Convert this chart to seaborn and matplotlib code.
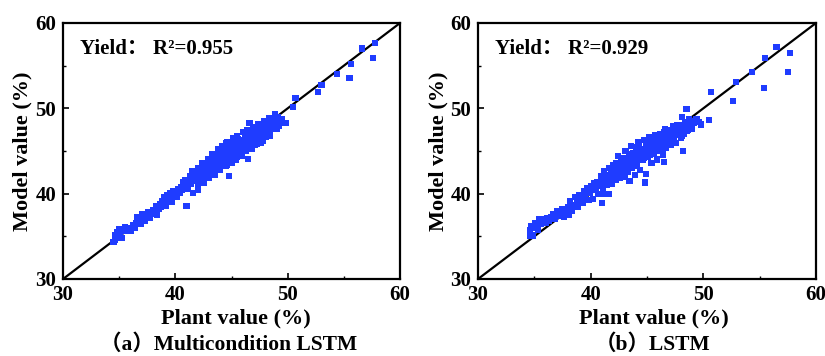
import matplotlib
matplotlib.use("Agg")
import matplotlib.pyplot as plt
import seaborn as sns
import pandas as pd
from matplotlib.ticker import MultipleLocator

# ---------------- data ----------------
a_x = [34.5,34.6,34.6,34.7,34.8,34.9,35.0,35.1,35.2,35.4,35.5,35.7,35.9,36.0,36.2,
       36.4,36.5,36.6,36.8,36.9,37.0,37.1,37.3,37.4,37.6,37.7,37.9,38.0,38.2,38.3,38.4,
       38.5,38.6,38.7,38.8,38.9,39.0,39.1,39.2,39.3,39.4,39.5,39.6,39.7,39.8,39.9,40.0,40.1,40.2,
       41.0,41.6,42.0,
       40.4,40.5,40.6,40.7,40.8,40.9,41.0,41.1,41.2,41.3,41.4,41.5,41.6,41.7,41.8,41.9,42.0,42.0,
       42.1,42.2,42.3,42.4,42.4,42.5,42.6,42.7,42.8,42.9,43.0,43.0,43.1,43.2,43.3,43.4,43.4,43.5,
       43.6,43.7,43.8,43.9,44.0,44.0,43.2,42.9,43.6,43.8,
       44.1,44.2,44.3,44.4,44.5,44.6,44.6,44.7,44.8,44.8,44.9,45.0,45.0,45.1,45.2,45.3,45.4,45.5,
       45.5,45.6,45.7,45.8,45.9,46.0,44.3,44.5,45.2,
       46.1,46.2,46.3,46.4,46.5,46.5,46.6,46.7,46.8,46.9,47.0,47.1,47.2,47.3,47.4,47.5,47.6,47.7,
       47.8,47.9,48.0,46.6,47.2,
       48.1,48.2,48.3,48.4,48.5,48.6,48.7,48.8,48.9,49.0,49.2,49.5,49.8,48.5,49.1,
       42.2,42.3,42.5,42.6,42.7,42.8,43.0,43.1,43.2,43.3,43.5,43.6,43.7,43.9,44.0,44.1,44.2,44.3,
       44.4,44.5,44.6,44.7,44.9,45.0,45.1,45.2,45.3,45.4,45.6,45.7,45.8,45.9,46.0,46.1,46.2,46.3,
       46.4,46.6,46.7,46.8,46.9,47.0,47.1,47.3,47.4,47.5,47.6,47.8,48.0,48.2,
       41.5,42.0,42.4,42.9,43.3,43.8,44.2,44.6,45.1,45.5,46.0,46.4,46.9,47.4,47.9,48.3,
       42.0,42.5,43.0,43.5,44.0,44.5,45.0,45.4,45.9,46.3,46.8,47.3,47.8,48.4,49.0,
       50.5,50.7,52.7,53.0,54.4,55.5,55.6,56.6,57.6,57.8]
a_y = [34.3,34.6,35.2,34.9,35.5,35.0,35.8,35.3,34.8,35.6,36.1,35.7,36.0,35.6,36.3,
       36.0,36.6,37.3,36.9,36.5,37.6,37.1,36.8,37.4,37.8,37.2,37.6,38.1,37.8,38.5,37.5,
       38.2,38.8,38.4,39.1,38.7,39.6,39.2,38.6,39.8,39.3,40.1,39.6,39.0,40.3,39.8,40.2,39.6,40.5,
       38.6,40.1,40.4,
       40.1,40.8,40.4,41.3,40.9,41.6,41.0,40.6,41.4,42.0,41.2,41.7,42.3,41.5,41.9,42.5,41.4,42.1,
       42.8,41.9,42.4,43.1,41.7,42.7,43.4,42.2,42.9,43.6,42.6,43.3,44.0,42.9,43.5,42.4,44.2,43.1,
       43.8,44.5,43.3,44.0,42.8,44.6,43.9,42.3,42.9,44.9,
       43.6,44.3,45.0,43.9,44.6,45.3,43.4,44.1,45.6,42.1,44.8,44.2,45.9,45.2,44.6,46.2,45.0,44.3,
       45.7,46.4,45.1,45.9,44.8,46.3,43.2,45.9,43.9,
       45.5,46.6,45.9,47.0,44.1,46.2,45.3,46.8,47.3,46.0,46.6,45.7,47.0,46.3,47.5,46.8,45.9,47.2,
       46.6,47.7,47.1,48.3,46.9,
       46.6,47.8,48.9,47.3,48.2,47.7,48.6,48.0,49.3,48.4,48.0,48.7,48.3,48.8,49.0,
       42.5,43.0,42.1,42.9,43.5,42.4,43.8,43.2,42.6,44.1,43.6,44.3,43.6,43.7,44.1,44.8,43.7,44.4,
       45.1,43.8,44.6,45.2,45.4,44.7,45.7,45.1,44.5,45.6,45.4,46.0,44.9,45.6,45.2,46.2,45.6,46.5,
       45.8,46.5,45.9,46.3,47.0,46.1,46.7,47.1,46.1,47.4,46.9,47.4,47.9,47.2,
       42.6,43.0,43.6,44.1,44.6,45.2,45.6,46.0,46.5,46.8,47.2,47.4,47.8,48.1,48.5,48.6,
       40.9,41.3,41.9,42.2,43.0,43.2,43.6,44.0,44.4,45.0,45.3,45.8,46.2,46.8,47.6,
       50.2,51.2,51.9,52.7,54.0,53.6,55.2,57.0,55.9,57.7]

b_x = [34.6,34.6,34.7,34.9,35.0,35.1,35.3,35.4,35.6,35.8,36.0,36.1,36.3,36.5,36.7,36.8,37.0,
       37.1,37.3,37.5,37.6,37.8,38.0,38.1,38.2,38.3,38.5,38.6,38.8,38.9,39.0,39.2,39.3,39.4,39.5,
       39.7,39.8,39.9,40.0,40.1,40.2,40.3,40.5,40.6,40.7,40.8,40.9,41.0,41.1,41.2,41.3,41.4,41.5,
       41.6,41.7,41.8,41.9,42.0,42.0,
       41.0,41.1,41.6,43.5,
       42.1,42.2,42.3,42.4,42.4,42.5,42.6,42.7,42.8,42.9,43.0,43.0,43.1,43.2,43.3,43.4,43.4,43.5,
       43.6,43.7,43.8,43.9,44.0,44.0,44.1,44.2,44.3,44.4,44.5,44.6,44.7,44.8,44.8,44.9,45.0,45.1,
       45.2,45.3,45.4,45.5,45.6,45.7,45.8,45.9,46.0,46.1,46.2,46.3,46.4,46.5,46.5,46.6,46.7,46.8,
       46.9,47.0,47.1,47.2,47.3,47.4,47.5,47.6,47.7,47.8,47.9,48.0,48.1,48.2,48.2,48.3,48.4,48.5,
       48.6,48.7,48.8,48.9,49.0,49.2,49.4,49.6,49.8,
       42.2,42.3,42.5,42.6,42.7,42.9,43.0,43.1,43.3,43.4,43.5,43.6,43.7,43.9,44.0,44.1,44.2,44.3,
       44.4,44.6,44.7,44.9,45.0,45.1,45.2,45.3,45.4,45.5,45.6,45.8,45.9,46.0,46.1,46.2,46.4,46.5,
       46.7,46.8,46.9,47.0,47.2,47.3,47.5,47.6,47.8,48.0,48.1,48.3,48.5,48.7,
       50.5,50.7,52.6,52.9,54.3,55.4,55.5,56.5,57.5,57.7]
b_y = [35.0,35.7,36.2,35.1,36.0,36.5,35.8,37.0,36.4,37.0,36.6,37.1,36.8,37.3,37.6,37.0,38.0,
       37.4,37.8,38.2,37.3,37.8,38.4,37.5,39.1,38.0,38.7,39.6,39.2,38.5,39.8,39.4,38.9,40.3,39.7,
       40.6,39.3,40.1,40.9,40.4,39.4,41.2,40.6,41.4,40.0,40.9,42.0,41.3,40.6,42.6,41.7,41.0,42.2,
       43.0,41.5,42.4,41.2,43.3,42.0,
       38.9,40.0,40.0,41.5,
       42.7,41.6,43.6,42.3,44.4,43.0,41.9,43.8,42.6,44.2,43.2,42.0,45.0,43.6,42.5,44.5,41.5,43.9,
       45.6,43.0,44.8,42.2,44.2,45.4,43.4,46.0,44.6,42.8,45.2,43.9,46.3,44.9,41.3,42.3,45.5,44.3,
       46.6,45.0,43.6,45.9,44.7,46.9,45.4,44.0,46.2,45.1,47.0,45.8,44.6,46.6,43.7,47.6,45.4,46.9,
       46.1,47.4,45.7,46.8,47.9,46.4,47.2,45.9,48.0,46.9,47.5,46.5,49.0,45.0,47.9,47.0,48.4,49.9,
       47.5,48.7,47.9,48.5,47.6,48.3,48.7,48.4,48.1,
       42.9,42.1,43.6,42.7,43.2,43.0,44.0,43.3,43.9,43.1,44.6,43.5,44.3,44.0,43.3,45.0,44.1,45.6,
       44.5,45.0,44.2,45.7,44.8,46.0,45.3,44.5,46.3,45.1,45.8,46.4,45.6,45.0,46.6,45.6,46.2,47.2,
       46.5,45.7,47.2,46.5,47.5,46.1,46.9,47.7,47.2,47.7,46.8,48.0,47.4,48.2,
       48.6,51.9,50.9,53.1,54.3,52.4,55.9,57.2,54.3,56.5]

panel_data = [
    (a_x, a_y, "Yield\uff1a R\u00b2=0.955", "\uff08a\uff09Multicondition LSTM"),
    (b_x, b_y, "Yield\uff1a R\u00b2=0.929", "\uff08b\uff09LSTM"),
]
axis_limits = [30, 60]
tick_values = [30, 40, 50, 60]
x_label = "Plant value (%)"
y_label = "Model value (%)"

# ---------------- style ----------------
sns.set_theme(style="white")
plt.rcParams["font.family"] = ["Liberation Serif", "Noto Sans CJK SC", "DejaVu Sans"]
plt.rcParams["font.weight"] = "bold"
plt.rcParams["axes.labelweight"] = "bold"

fig = plt.figure(figsize=(8.25, 3.56), dpi=100)
axes_rects = [[0.0764, 0.2163, 0.4085, 0.7191], [0.5794, 0.2163, 0.4097, 0.7191]]
plant_x = [236 / 825, 654 / 825]
sub_x = [229 / 825, 653 / 825]
ylab_x = [22 / 825, 438 / 825]
point_color = "#1f3cff"

for rect, (xs, ys, r2, sub), px, sx, yx in zip(axes_rects, panel_data, plant_x, sub_x, ylab_x):
    ax = fig.add_axes(rect)
    df = pd.DataFrame({"plant": xs, "model": ys})
    ax.plot(axis_limits, axis_limits, color="black", lw=1.6, zorder=1)
    sns.scatterplot(data=df, x="plant", y="model", ax=ax, marker="s", s=20,
                    color=point_color, edgecolor="none", linewidth=0, zorder=2)
    ax.set_xlim(axis_limits)
    ax.set_ylim(axis_limits)
    ax.set_xticks(tick_values)
    ax.set_yticks(tick_values)
    ax.xaxis.set_minor_locator(MultipleLocator(5))
    ax.yaxis.set_minor_locator(MultipleLocator(5))
    ax.tick_params(which="major", direction="in", length=4, width=1.2, color="black",
                   labelsize=15, bottom=True, left=True)
    ax.tick_params(axis="x", which="major", pad=4)
    ax.tick_params(axis="y", which="major", pad=5)
    ax.tick_params(which="minor", direction="in", length=2.5, width=1.0, color="black",
                   bottom=True, left=True)
    for lab in ax.get_xticklabels() + ax.get_yticklabels():
        lab.set_fontweight("bold")
        lab.set_color("black")
    for sp in ax.spines.values():
        sp.set_linewidth(1.6)
        sp.set_color("black")
    ax.set_xlabel("")
    ax.set_ylabel("")
    ax.text(0.05, 0.9, r2, transform=ax.transAxes, fontsize=15, fontweight="bold",
            va="center", ha="left", color="black")
    fig.text(px, 1 - 318 / 356, x_label, ha="center", va="center",
             fontsize=16, fontweight="bold", color="black")
    fig.text(yx, 1 - 151 / 356, y_label, ha="center", va="center", rotation=90,
             fontsize=16, fontweight="bold", color="black")
    fig.text(sx, 1 - 345 / 356, sub, ha="center", va="center",
             fontsize=15.5, fontweight="bold", color="black")

fig.savefig("out.png", dpi=100)
